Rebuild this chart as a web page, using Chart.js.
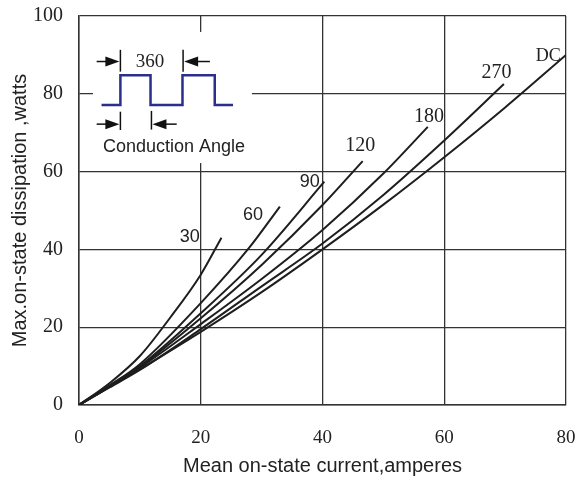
<!DOCTYPE html>
<html>
<head>
<meta charset="utf-8">
<script src="https://cdn.jsdelivr.net/npm/chart.js@4"></script>
<style>
  html, body { margin: 0; padding: 0; background: #fff; }
  #wrap { width: 578px; height: 479px; }
</style>
</head>
<body>
<div id="wrap"><canvas id="c"></canvas></div>
<script>
// curves: mean current (A) -> dissipation (W)
const curveNames = ['30', '60', '90', '120', '180', '270', 'DC'];
const x30 = [0, 5, 10, 15, 20, 23.4];
const y30 = [0, 5.6, 12.6, 22.5, 33.5, 43];
const x60 = [0, 5, 10, 20, 28, 33];
const y60 = [0, 5, 10.5, 26.2, 40.5, 51];
const x90 = [0, 5, 10, 20, 30, 40.3];
const y90 = [0, 4.9, 10, 23.6, 38.6, 57.4];
const x120 = [0, 5, 10, 20, 30, 40, 46.6];
const y120 = [0, 4.8, 9.8, 22.3, 36, 51.4, 62.7];
const x180 = [0, 5, 10, 20, 30, 40, 50, 57.3];
const y180 = [0, 4.7, 9.6, 20.8, 32.4, 45, 59.5, 71.5];
const x270 = [0, 5, 10, 20, 30, 40, 50, 60, 69.8];
const y270 = [0, 4.5, 9, 19.5, 30.5, 41.5, 54, 68, 82.5];
const xDC = [0, 10, 20, 30, 40, 50, 60, 70, 80];
const yDC = [0, 9.2, 18.8, 29, 40, 51.5, 63.7, 76.5, 90];

// where each curve label sits (data units)
const labelX = [18.2, 28.6, 37.9, 46.2, 57.5, 68.6, 77.1];
const labelY = [43.2, 48.8, 57.4, 66.6, 74, 85.5, 89.7];

// inset: conduction angle sketch (data units)
const waveX = [3.7, 6.8, 6.8, 11.75, 11.75, 17, 17, 22.3, 22.3, 25.3];
const waveY = [77.1, 77.1, 84.8, 84.8, 77.1, 77.1, 84.8, 84.8, 77.1, 77.1];

const xTicks = [0, 20, 40, 60, 80];
const yTicks = [0, 20, 40, 60, 80, 100];

const pts = (xs, ys) => xs.map((x, i) => ({ x: x, y: ys[i] }));
const curves = [pts(x30, y30), pts(x60, y60), pts(x90, y90), pts(x120, y120),
                pts(x180, y180), pts(x270, y270), pts(xDC, yDC)];

const serif = '"Liberation Serif", "DejaVu Serif", serif';
const sans = '"Liberation Sans", Arial, sans-serif';

// white box behind the inset, then arrows and texts on top
const insetPlugin = {
  id: 'inset',
  beforeDatasetsDraw(chart) {
    const { ctx, scales: { x, y } } = chart;
    ctx.save();
    ctx.fillStyle = '#fff';
    const l = x.getPixelForValue(2.3), r = x.getPixelForValue(28.4);
    const t = y.getPixelForValue(95.9), b = y.getPixelForValue(62.2);
    ctx.fillRect(l, t, r - l, b - t);
    ctx.restore();
  },
  afterDatasetsDraw(chart) {
    const { ctx, scales: { x, y } } = chart;
    const px = v => x.getPixelForValue(v);
    const py = v => y.getPixelForValue(v);
    ctx.save();
    ctx.strokeStyle = '#111';
    ctx.fillStyle = '#111';
    ctx.lineWidth = 1.5;

    function bar(xv, y1, y2) {
      ctx.beginPath();
      ctx.moveTo(px(xv), py(y1));
      ctx.lineTo(px(xv), py(y2));
      ctx.stroke();
    }
    function arrow(tail, tip, yv) {
      const xt = px(tip), xs = px(tail), yy = py(yv);
      const dir = xt > xs ? 1 : -1;
      ctx.beginPath();
      ctx.moveTo(xs, yy);
      ctx.lineTo(xt - dir * 8, yy);
      ctx.stroke();
      ctx.beginPath();
      ctx.moveTo(xt - dir * 1, yy);
      ctx.lineTo(xt - dir * 15, yy - 5);
      ctx.lineTo(xt - dir * 15, yy + 5);
      ctx.closePath();
      ctx.fill();
    }
    bar(6.8, 91.3, 85.7);
    bar(17.1, 91.3, 85.7);
    bar(6.8, 75.4, 70.7);
    bar(11.9, 75.6, 70.8);
    arrow(2.9, 6.8, 88.3);
    arrow(21.5, 17.1, 88.3);
    arrow(2.9, 6.8, 72.2);
    arrow(16.05, 11.9, 72.2);

    ctx.textAlign = 'center';
    ctx.textBaseline = 'middle';
    ctx.fillStyle = '#222';
    ctx.font = '19px ' + serif;
    ctx.fillText('360', px(11.66), py(88.2));
    ctx.font = '18px ' + sans;
    ctx.fillText('Conduction Angle', px(15.6), py(66.4));

    // curve labels
    curveNames.forEach((name, i) => {
      ctx.font = i < 3 ? '18px ' + sans : (name === 'DC' ? '18px ' + serif : '20px ' + serif);
      ctx.fillText(name, px(labelX[i]), py(labelY[i]));
    });
    ctx.restore();
  }
};

new Chart(document.getElementById('c'), {
  type: 'line',
  data: {
    datasets: curves.map((d, i) => ({
      label: curveNames[i],
      data: d,
      borderColor: '#1e1e1e',
      borderWidth: 2,
      pointRadius: 0,
      fill: false,
      cubicInterpolationMode: 'monotone'
    })).concat([{
      label: 'wave',
      data: pts(waveX, waveY),
      borderColor: '#2b2f8c',
      borderWidth: 2.5,
      pointRadius: 0,
      fill: false,
      tension: 0
    }])
  },
  options: {
    responsive: true,
    maintainAspectRatio: false,
    animation: false,
    layout: { padding: { top: 16, right: 12, left: 0, bottom: 0 } },
    plugins: {
      legend: { display: false },
      tooltip: { enabled: false }
    },
    scales: {
      x: {
        type: 'linear',
        min: 0,
        max: 80,
        afterFit(s) { s.height = 74; s.paddingLeft = 0; s.paddingRight = 0; },
        afterBuildTicks(s) { s.ticks = xTicks.map(v => ({ value: v })); },
        grid: { color: '#333', lineWidth: 1.3, drawTicks: false },
        border: { color: '#333', width: 1.5 },
        ticks: { padding: 22, color: '#222', font: { family: serif, size: 19 } },
        title: {
          display: true,
          text: 'Mean on-state current,amperes',
          color: '#222',
          font: { family: sans, size: 20 },
          padding: { top: 0, bottom: 1 }
        }
      },
      y: {
        type: 'linear',
        min: 0,
        max: 100,
        afterFit(s) { s.width = 79; s.paddingTop = 0; s.paddingBottom = 0; },
        afterBuildTicks(s) { s.ticks = yTicks.map(v => ({ value: v })); },
        grid: { color: '#333', lineWidth: 1.3, drawTicks: false },
        border: { color: '#333', width: 1.5 },
        ticks: { padding: 16, color: '#222', font: { family: serif, size: 20 } },
        title: {
          display: true,
          text: 'Max.on-state dissipation ,watts',
          color: '#222',
          font: { family: sans, size: 20 },
          padding: { top: 8, bottom: 0 }
        }
      }
    }
  },
  plugins: [insetPlugin]
});
</script>
</body>
</html>
